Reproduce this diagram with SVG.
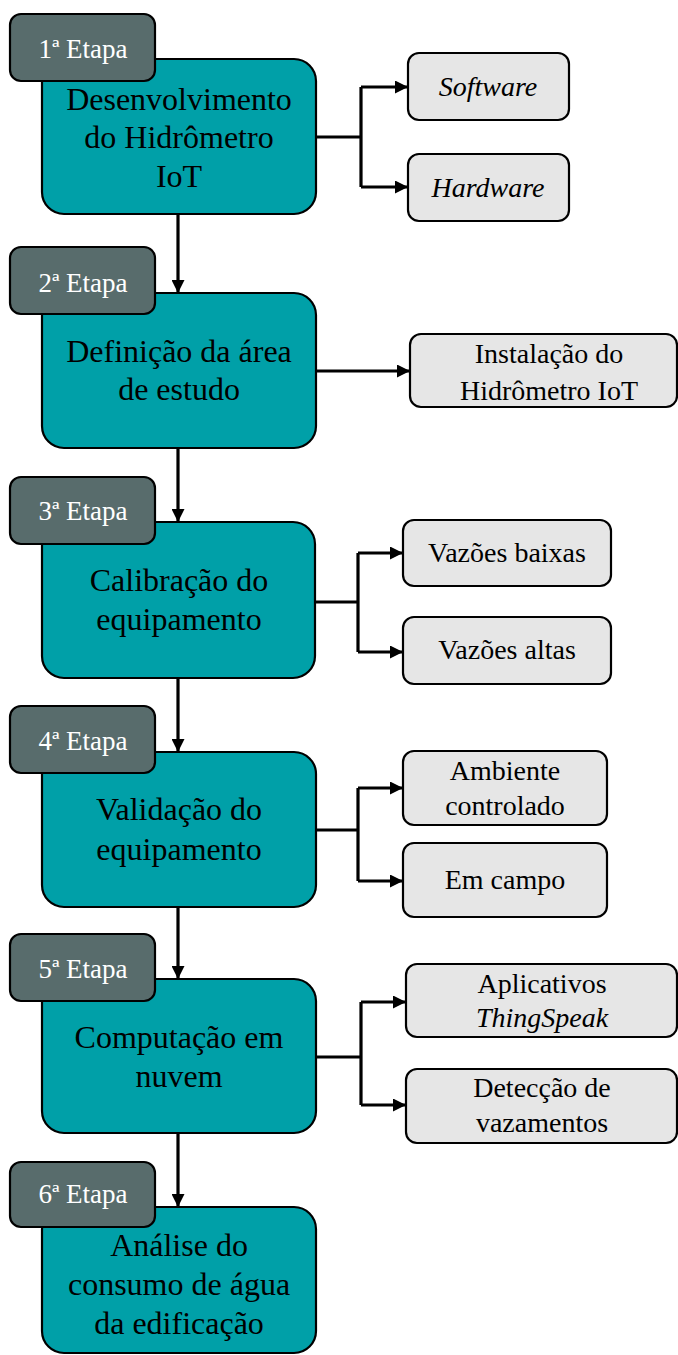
<svg xmlns="http://www.w3.org/2000/svg" width="678" height="1355" viewBox="0 0 678 1355">
<defs>
<style>
.main{fill:#00A0A8;stroke:#000;stroke-width:2.2}
.tag{fill:#586C6C;stroke:#000;stroke-width:2.2}
.sub{fill:#E6E6E6;stroke:#000;stroke-width:2.2}
.ln{fill:none;stroke:#000;stroke-width:3.2}
.ar{fill:none;stroke:#000;stroke-width:3.2;marker-end:url(#ah)}
</style>
<marker id="ah" markerUnits="userSpaceOnUse" markerWidth="14" markerHeight="13" refX="13" refY="6.5" orient="auto">
<path d="M0,0 L13,6.5 L0,13 z" fill="#000"/>
</marker>
</defs>
<g id="connectors">
<path class="ar" d="M178 214 V293"/>
<path class="ar" d="M178 448 V522"/>
<path class="ar" d="M178 678 V752"/>
<path class="ar" d="M178 907 V979"/>
<path class="ar" d="M178 1133 V1207"/>
<path class="ln" d="M316 137 H361 M361 87 V187"/>
<path class="ar" d="M361 87 H408"/>
<path class="ar" d="M361 187 H408"/>
<path class="ar" d="M316 371 H410"/>
<path class="ln" d="M315 602 H358 M358 553 V652"/>
<path class="ar" d="M358 553 H403"/>
<path class="ar" d="M358 652 H403"/>
<path class="ln" d="M316 830 H358 M358 788 V881"/>
<path class="ar" d="M358 788 H403"/>
<path class="ar" d="M358 881 H403"/>
<path class="ln" d="M316 1057 H361 M361 1002 V1105"/>
<path class="ar" d="M361 1002 H406"/>
<path class="ar" d="M361 1105 H406"/>
</g>
<g id="stage1">
<rect class="main" x="42" y="59" width="274" height="155" rx="22"/>
<text x="179" y="110" font-family="Times" font-size="32" text-anchor="middle" fill="#000">Desenvolvimento</text>
<text x="179" y="148" font-family="Times" font-size="32" text-anchor="middle" fill="#000">do Hidrômetro</text>
<text x="179" y="187" font-family="Times" font-size="32" text-anchor="middle" fill="#000">IoT</text>
<rect class="tag" x="10" y="14" width="145" height="67" rx="11"/>
<text x="83" y="58" font-family="Times" font-size="27" text-anchor="middle" fill="#fff">1ª Etapa</text>
</g>
<g id="software"><rect class="sub" x="408" y="53" width="161" height="67" rx="11"/><text x="488" y="96" font-family="Times" font-size="28" font-style="italic" text-anchor="middle" fill="#000">Software</text></g>
<g id="hardware"><rect class="sub" x="408" y="154" width="161" height="67" rx="11"/><text x="488" y="197" font-family="Times" font-size="28" font-style="italic" text-anchor="middle" fill="#000">Hardware</text></g>
<g id="stage2">
<rect class="main" x="42" y="293" width="274" height="155" rx="22"/>
<text x="179" y="362" font-family="Times" font-size="32" text-anchor="middle" fill="#000">Definição da área</text>
<text x="179" y="400" font-family="Times" font-size="32" text-anchor="middle" fill="#000">de estudo</text>
<rect class="tag" x="10" y="247" width="145" height="67" rx="11"/>
<text x="83" y="292" font-family="Times" font-size="27" text-anchor="middle" fill="#fff">2ª Etapa</text>
</g>
<g id="instalacao"><rect class="sub" x="410" y="334" width="267" height="73" rx="11"/>
<text x="549" y="363" font-family="Times" font-size="28" text-anchor="middle" fill="#000">Instalação do</text>
<text x="549" y="400" font-family="Times" font-size="28" text-anchor="middle" fill="#000">Hidrômetro IoT</text></g>
<g id="stage3">
<rect class="main" x="42" y="522" width="273" height="156" rx="22"/>
<text x="179" y="591" font-family="Times" font-size="32" text-anchor="middle" fill="#000">Calibração do</text>
<text x="179" y="630" font-family="Times" font-size="32" text-anchor="middle" fill="#000">equipamento</text>
<rect class="tag" x="10" y="477" width="145" height="67" rx="11"/>
<text x="83" y="520" font-family="Times" font-size="27" text-anchor="middle" fill="#fff">3ª Etapa</text>
</g>
<g id="vazoes-baixas"><rect class="sub" x="403" y="520" width="208" height="66" rx="11"/><text x="507" y="562" font-family="Times" font-size="28" text-anchor="middle" fill="#000">Vazões baixas</text></g>
<g id="vazoes-altas"><rect class="sub" x="403" y="617" width="208" height="67" rx="11"/><text x="507" y="659" font-family="Times" font-size="28" text-anchor="middle" fill="#000">Vazões altas</text></g>
<g id="stage4">
<rect class="main" x="42" y="752" width="274" height="155" rx="22"/>
<text x="179" y="820" font-family="Times" font-size="32" text-anchor="middle" fill="#000">Validação do</text>
<text x="179" y="860" font-family="Times" font-size="32" text-anchor="middle" fill="#000">equipamento</text>
<rect class="tag" x="10" y="706" width="145" height="67" rx="11"/>
<text x="83" y="750" font-family="Times" font-size="27" text-anchor="middle" fill="#fff">4ª Etapa</text>
</g>
<g id="ambiente"><rect class="sub" x="403" y="751" width="204" height="74" rx="11"/>
<text x="505" y="780" font-family="Times" font-size="28" text-anchor="middle" fill="#000">Ambiente</text>
<text x="505" y="815" font-family="Times" font-size="28" text-anchor="middle" fill="#000">controlado</text></g>
<g id="campo"><rect class="sub" x="403" y="843" width="204" height="74" rx="11"/><text x="505" y="889" font-family="Times" font-size="28" text-anchor="middle" fill="#000">Em campo</text></g>
<g id="stage5">
<rect class="main" x="42" y="979" width="274" height="154" rx="22"/>
<text x="179" y="1048" font-family="Times" font-size="32" text-anchor="middle" fill="#000">Computação em</text>
<text x="179" y="1087" font-family="Times" font-size="32" text-anchor="middle" fill="#000">nuvem</text>
<rect class="tag" x="10" y="934" width="145" height="67" rx="11"/>
<text x="83" y="978" font-family="Times" font-size="27" text-anchor="middle" fill="#fff">5ª Etapa</text>
</g>
<g id="aplicativos"><rect class="sub" x="406" y="964" width="271" height="73" rx="11"/>
<text x="542" y="993" font-family="Times" font-size="28" text-anchor="middle" fill="#000">Aplicativos</text>
<text x="542" y="1027" font-family="Times" font-size="28" font-style="italic" text-anchor="middle" fill="#000">ThingSpeak</text></g>
<g id="deteccao"><rect class="sub" x="406" y="1069" width="271" height="74" rx="11"/>
<text x="542" y="1097" font-family="Times" font-size="28" text-anchor="middle" fill="#000">Detecção de</text>
<text x="542" y="1132" font-family="Times" font-size="28" text-anchor="middle" fill="#000">vazamentos</text></g>
<g id="stage6">
<rect class="main" x="42" y="1207" width="274" height="146" rx="22"/>
<text x="179" y="1256" font-family="Times" font-size="32" text-anchor="middle" fill="#000">Análise do</text>
<text x="179" y="1295" font-family="Times" font-size="32" text-anchor="middle" fill="#000">consumo de água</text>
<text x="179" y="1334" font-family="Times" font-size="32" text-anchor="middle" fill="#000">da edificação</text>
<rect class="tag" x="10" y="1162" width="145" height="65" rx="11"/>
<text x="83" y="1203" font-family="Times" font-size="27" text-anchor="middle" fill="#fff">6ª Etapa</text>
</g>
</svg>
